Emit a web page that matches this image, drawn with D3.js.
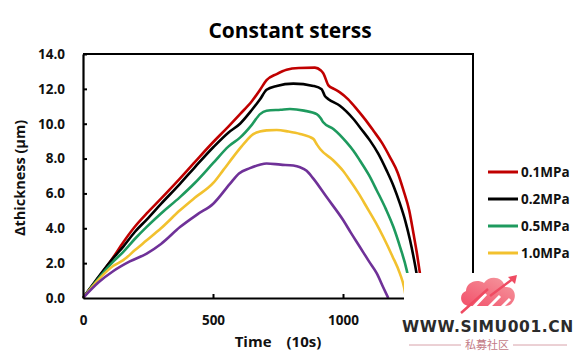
<!DOCTYPE html>
<html><head><meta charset="utf-8">
<script src="https://cdn.jsdelivr.net/npm/d3@7"></script>
<style>
html,body{margin:0;padding:0;background:#fff;}
svg{display:block;font-family:"Open Sans","Noto Sans",sans-serif;}
</style></head>
<body>
<svg id="chart" width="580" height="357"></svg>
<script>
// ---------- data ----------
const title = "Constant sterss";
const xLabel = "Time\u3000(10s)";
const yLabel = "\u0394thickness (\u00b5m)";
const xTicks = [0, 500, 1000];
const yTicks = [0, 2, 4, 6, 8, 10, 12, 14];
const seriesNames = ["0.1MPa", "0.2MPa", "0.5MPa", "1.0MPa", "2.0MPa"];
const seriesColors = ["#C00000", "#000000", "#1E9A5E", "#F2C12E", "#6F3198"];

const s01 = [[0,0],[117,2.35],[155,3.2],[200,4.1],[245,4.85],[300,5.7],[360,6.65],[430,7.8],[501,8.95],[560,9.85],[604,10.55],[650,11.3],[681,11.95],[706,12.5],[745,12.85],[783,13.1],[830,13.2],[892,13.22],[915,13.05],[924,12.9],[944,12.2],[965,12.0],[988,11.8],[1020,11.4],[1053,10.84],[1085,10.25],[1117,9.6],[1150,8.9],[1181,8.07],[1210,7.2],[1232,6.2],[1255,5.0],[1271,3.7],[1285,2.5],[1296,1.4],[1305,0.5],[1310,0]];
const s02 = [[0,0],[117,2.3],[155,2.95],[200,3.8],[245,4.5],[300,5.4],[373,6.55],[430,7.5],[501,8.65],[560,9.5],[604,10.0],[650,10.8],[681,11.4],[706,11.95],[745,12.17],[809,12.3],[886,12.17],[918,11.98],[930,11.6],[944,11.41],[988,11.03],[1040,10.27],[1070,9.7],[1104,9.03],[1135,8.3],[1168,7.31],[1195,6.4],[1219,5.41],[1240,4.4],[1258,3.31],[1272,2.3],[1283,1.4],[1292,0.5],[1297,0]];
const s05 = [[0,0],[117,2.1],[155,2.65],[200,3.4],[245,4.08],[300,4.85],[373,5.79],[430,6.6],[501,7.75],[560,8.7],[604,9.2],[650,9.95],[681,10.55],[706,10.74],[760,10.8],[796,10.84],[850,10.75],[899,10.55],[915,10.3],[924,10.08],[963,9.7],[1014,8.93],[1040,8.45],[1065,7.89],[1100,7.05],[1130,6.17],[1165,5.1],[1194,4.07],[1220,2.9],[1245,1.6],[1258,0.6],[1263,0]];
const s10 = [[0,0],[117,1.85],[155,2.17],[200,2.75],[245,3.31],[300,4.0],[373,5.03],[430,5.75],[501,6.6],[540,7.35],[578,8.1],[610,8.7],[630,9.05],[655,9.4],[680,9.55],[706,9.62],[745,9.64],[790,9.55],[835,9.41],[886,9.13],[900,8.8],[912,8.55],[963,7.89],[1000,7.3],[1027,6.74],[1060,6.0],[1091,5.22],[1125,4.35],[1155,3.5],[1190,2.4],[1219,1.4],[1235,0.6],[1242,0]];
const s20 = [[0,0],[60,0.9],[117,1.55],[180,2.1],[245,2.55],[300,3.1],[373,4.07],[440,4.8],[501,5.41],[565,6.55],[600,7.15],[642,7.45],[680,7.65],[706,7.72],[760,7.65],[809,7.6],[835,7.5],[860,7.3],[886,6.85],[937,5.79],[1001,4.46],[1030,3.75],[1065,2.93],[1100,2.1],[1130,1.41],[1155,0.6],[1174,0]];
const seriesData = [s01, s02, s05, s10, s20];

// ---------- layout ----------
const svg = d3.select("#chart");
const L = 83, R = 473, T = 54, B = 298;
const x = d3.scaleLinear().domain([0, 1500]).range([L, R]);
const y = d3.scaleLinear().domain([0, 14]).range([B, T]);

// frame (top & right)
svg.append("path").attr("d", `M${L},${T}H${R}V${B}`).attr("fill","none").attr("stroke","#000").attr("stroke-width",2);

// series
const line = d3.line().x(d => x(d[0])).y(d => y(d[1])).curve(d3.curveMonotoneX);
const gl = svg.append("g");
seriesData.forEach((s, i) => {
  gl.append("path").datum(s).attr("d", line).attr("fill","none")
    .attr("stroke", seriesColors[i]).attr("stroke-width", 2.6).attr("stroke-linejoin","round");
});

// axes
const yAxis = d3.axisLeft(y).tickValues(yTicks).tickFormat(d3.format(".1f")).tickSizeInner(-4).tickSizeOuter(0).tickPadding(18);
const gy = svg.append("g").attr("transform", `translate(${L},0)`).call(yAxis);
const xAxis = d3.axisBottom(x).tickValues(xTicks).tickFormat(d3.format("d")).tickSizeInner(-4).tickSizeOuter(0).tickPadding(17);
const gx = svg.append("g").attr("transform", `translate(0,${B})`).call(xAxis);
[gx, gy].forEach(g => {
  g.select(".domain").attr("stroke","#000").attr("stroke-width",2.2);
  g.selectAll(".tick line").attr("stroke","#000").attr("stroke-width",2);
  g.selectAll(".tick text").attr("fill","#111").attr("font-size",13.5).attr("font-weight",700)
    .attr("font-family",'"Open Sans","Noto Sans",sans-serif');
});
gx.selectAll(".tick").filter(d => d === 0).select("line").remove();
gy.selectAll(".tick").filter(d => d === 0).select("line").remove();

// title
svg.append("text").attr("x", 290).attr("y", 38).attr("text-anchor","middle")
  .attr("font-size", 21).attr("font-weight", 700).attr("fill","#000").text(title);

// axis titles
svg.append("text").attr("transform","translate(25,178) rotate(-90)").attr("text-anchor","middle")
  .attr("font-size", 14.5).attr("font-weight", 700).attr("fill","#111").text(yLabel);
svg.append("text").attr("x", 278).attr("y", 347).attr("text-anchor","middle")
  .attr("font-size", 15).attr("font-weight", 700).attr("fill","#111").text(xLabel);

// legend
const lg = svg.append("g");
seriesNames.forEach((n, i) => {
  const ly = 172 + i * 27;
  lg.append("line").attr("x1",488).attr("x2",518).attr("y1",ly).attr("y2",ly)
    .attr("stroke", seriesColors[i]).attr("stroke-width",3);
  lg.append("text").attr("x",521).attr("y",ly).attr("dy","0.35em")
    .attr("font-size",13.5).attr("font-weight",700).attr("fill","#111").text(n);
});

// watermark overlay (as in the reference image)
const wm = svg.append("g");
wm.append("rect").attr("x",404).attr("y",273).attr("width",176).attr("height",84).attr("fill","#fff");
const defs = svg.append("defs");
const gr = defs.append("linearGradient").attr("id","wmg").attr("x1","0").attr("y1","1").attr("x2","1").attr("y2","0");
gr.append("stop").attr("offset","0").attr("stop-color","#f2506a");
gr.append("stop").attr("offset","1").attr("stop-color","#f59aa0");
wm.append("path").attr("fill","url(#wmg)")
  .attr("d","M470,306 C460,306 458,294 466,291 C466,283 476,278 484,283 C489,275 503,276 505,287 C514,286 518,296 512,303 C510,306 506,306 504,306 Z");
wm.append("path").attr("fill","none").attr("stroke","#fff").attr("stroke-width",3)
  .attr("d","M470,311 L486,294 M484,312 L500,296 M497,312 L510,299");
wm.append("path").attr("fill","none").attr("stroke","#ef4b62").attr("stroke-width",2.5)
  .attr("d","M461,313 L488,289 M490,296 L514,278");
wm.append("path").attr("fill","#ef4b62").attr("d","M508,277 L517,275 L515,284 Z");
wm.append("text").attr("x",488).attr("y",332).attr("text-anchor","middle")
  .attr("font-size",15.5).attr("font-weight",700).attr("fill","#2b2b2b").attr("letter-spacing",0.6)
  .attr("font-family",'"DejaVu Sans","Noto Sans",sans-serif').text("WWW.SIMU001.CN");
wm.append("line").attr("x1",409).attr("x2",461).attr("y1",345).attr("y2",345).attr("stroke","#d8a2aa").attr("stroke-width",1);
wm.append("line").attr("x1",513).attr("x2",567).attr("y1",345).attr("y2",345).attr("stroke","#d8a2aa").attr("stroke-width",1);
wm.append("text").attr("x",487).attr("y",349).attr("text-anchor","middle")
  .attr("font-size",11).attr("fill","#c27a86").attr("font-family",'"Noto Sans CJK SC",sans-serif').text("私募社区");
</script>
</body></html>
